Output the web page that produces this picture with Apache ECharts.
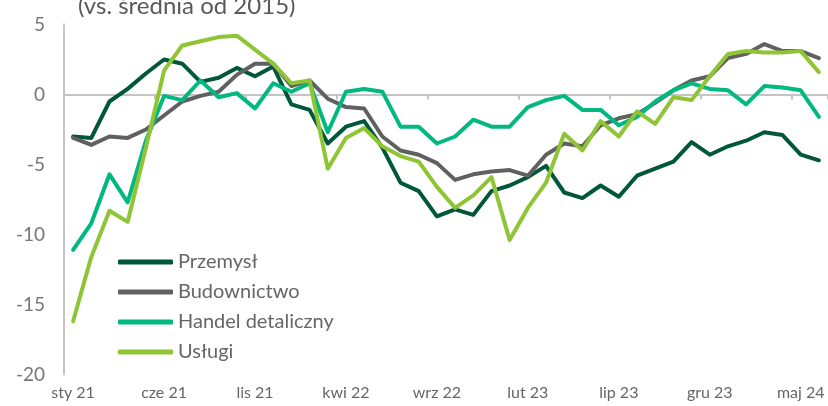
<!DOCTYPE html>
<html>
<head>
<meta charset="utf-8">
<script src="https://cdn.jsdelivr.net/npm/echarts@6/dist/echarts.min.js"></script>
<style>
  html, body { margin: 0; padding: 0; background: #fff; }
  #chart { width: 828px; height: 406px; }
</style>
</head>
<body>
<div id="chart"></div>
<script>
  // miesiace sty 21 .. cze 24
  var categories = [
    'sty 21', 'lut 21', 'mar 21', 'kwi 21', 'maj 21', 'cze 21', 'lip 21', 'sie 21', 'wrz 21', 'paź 21', 'lis 21', 'gru 21',
    'sty 22', 'lut 22', 'mar 22', 'kwi 22', 'maj 22', 'cze 22', 'lip 22', 'sie 22', 'wrz 22', 'paź 22', 'lis 22', 'gru 22',
    'sty 23', 'lut 23', 'mar 23', 'kwi 23', 'maj 23', 'cze 23', 'lip 23', 'sie 23', 'wrz 23', 'paź 23', 'lis 23', 'gru 23',
    'sty 24', 'lut 24', 'mar 24', 'kwi 24', 'maj 24', 'cze 24'
  ];

  var przemysl = [-3.0, -3.1, -0.5, 0.4, 1.5, 2.5, 2.2, 0.9, 1.2, 1.9, 1.3, 2.0, -0.7, -1.1,
    -3.5, -2.3, -1.9, -3.8, -6.3, -6.9, -8.7, -8.2, -8.6, -6.9, -6.5, -5.9, -5.1, -7.0,
    -7.4, -6.5, -7.3, -5.8, -5.3, -4.8, -3.4, -4.3, -3.7, -3.3, -2.7, -2.9, -4.3, -4.7];

  var budownictwo = [-3.1, -3.6, -3.0, -3.1, -2.5, -1.5, -0.5, -0.1, 0.2, 1.4, 2.2, 2.2, 0.6, 1.0,
    -0.3, -0.9, -1.0, -3.0, -4.0, -4.3, -4.9, -6.1, -5.7, -5.5, -5.4, -5.8, -4.3, -3.5,
    -3.7, -2.2, -1.7, -1.4, -0.6, 0.3, 1.0, 1.3, 2.6, 2.9, 3.6, 3.1, 3.1, 2.6];

  var handel = [-11.1, -9.2, -5.7, -7.7, -3.3, -0.1, -0.4, 1.0, -0.2, 0.1, -1.0, 0.8, 0.2, 0.8,
    -2.7, 0.2, 0.4, 0.2, -2.3, -2.3, -3.5, -3.0, -1.8, -2.3, -2.3, -0.9, -0.4, -0.1,
    -1.1, -1.1, -2.2, -1.6, -0.5, 0.3, 0.8, 0.4, 0.3, -0.7, 0.6, 0.5, 0.3, -1.6];

  var uslugi = [-16.2, -11.6, -8.3, -9.1, -3.8, 1.7, 3.5, 3.8, 4.1, 4.2, 3.2, 2.2, 0.8, 1.0,
    -5.3, -3.1, -2.4, -3.7, -4.4, -4.8, -6.6, -8.1, -7.2, -5.9, -10.4, -8.1, -6.3, -2.8,
    -4.0, -1.9, -3.0, -1.2, -2.1, -0.2, -0.4, 1.3, 2.9, 3.1, 3.0, 3.0, 3.1, 1.6];

  var seriesNames = ['Przemysł', 'Budownictwo', 'Handel detaliczny', 'Usługi'];
  var colors = ['#00573a', '#606060', '#00b880', '#8fc435'];

  var font = 'Lato, "Open Sans", sans-serif';

  let myChart = echarts.init(document.getElementById('chart'));

  function lineSeries(name, data, color) {
    return {
      name: name,
      type: 'line',
      xAxisIndex: 0,
      data: data,
      symbol: 'none',
      smooth: false,
      itemStyle: { color: color },
      lineStyle: { color: color, width: 4, cap: 'round', join: 'round' }
    };
  }

  let option = {
    animation: false,
    color: colors,
    graphic: [
      {
        type: 'text',
        left: 78,
        top: -6,
        style: {
          text: '(vs. średnia od 2015)',
          font: '24px ' + font,
          fill: '#595959'
        }
      }
    ],
    legend: {
      orient: 'vertical',
      left: 113,
      top: 247,
      icon: 'roundRect',
      itemWidth: 55,
      itemHeight: 5,
      itemGap: 10,
      textStyle: { fontFamily: font, fontSize: 20, color: '#666', lineHeight: 20 },
      data: seriesNames
    },
    grid: {
      left: 64,
      right: 0,
      top: 24.5,
      bottom: 31.5,
      containLabel: false
    },
    xAxis: [
      {
        type: 'category',
        data: categories,
        boundaryGap: true,
        position: 'bottom',
        axisLine: { show: false, onZero: false },
        axisTick: { show: false },
        axisLabel: {
          interval: 4,
          margin: 10,
          fontFamily: font,
          fontSize: 16,
          color: '#666'
        }
      },
      {
        type: 'category',
        data: categories,
        boundaryGap: true,
        position: 'bottom',
        axisLine: { show: true, onZero: true, lineStyle: { color: '#c4c4c4', width: 2 } },
        axisTick: { show: true, interval: 4, length: 5, lineStyle: { color: '#c4c4c4', width: 2 } },
        axisLabel: { show: false }
      }
    ],
    yAxis: {
      type: 'value',
      min: -20,
      max: 5,
      interval: 5,
      axisLine: { show: true, onZero: false, lineStyle: { color: '#c4c4c4', width: 2 } },
      axisTick: { show: false },
      splitLine: { show: false },
      axisLabel: {
        margin: 19,
        fontFamily: font,
        fontSize: 19,
        color: '#777'
      }
    },
    series: [
      lineSeries(seriesNames[0], przemysl, colors[0]),
      lineSeries(seriesNames[1], budownictwo, colors[1]),
      lineSeries(seriesNames[2], handel, colors[2]),
      lineSeries(seriesNames[3], uslugi, colors[3])
    ]
  };

  myChart.setOption(option);
  window.addEventListener('resize', function () {
    myChart.resize()
  });
</script>
</body>
</html>
